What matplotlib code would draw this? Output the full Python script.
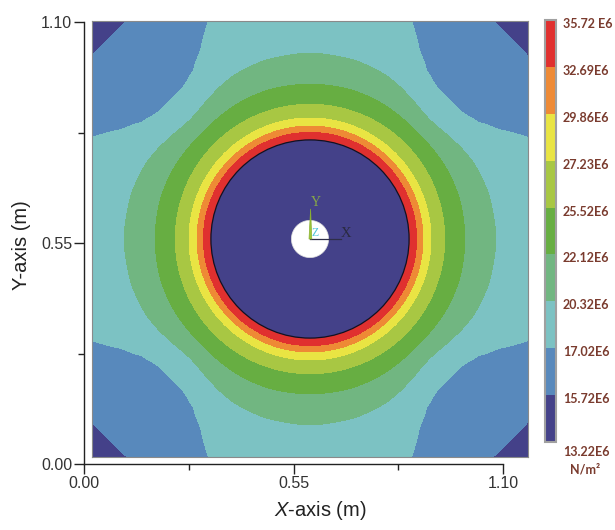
import numpy as np
import matplotlib
matplotlib.use("Agg")
import matplotlib.pyplot as plt
from matplotlib.colors import ListedColormap, BoundaryNorm
from matplotlib.patches import Circle, Polygon

# ---------------- data ----------------
levels = [13.22, 15.72, 17.02, 20.32, 22.12, 25.52, 27.23, 29.86, 32.69, 35.72]
level_labels = ["13.22E6", "15.72E6", "17.02E6", "20.32E6", "22.12E6",
                "25.52E6", "27.23E6", "29.86E6", "32.69E6", "35.72 E6"]
band_colors = ["#444189", "#5889bc", "#7cc2c3", "#71b681", "#67ae42",
               "#a8c743", "#e9e443", "#ee8a35", "#e0302f"]

plate_size = 1.1            # m
hole_radius = 0.047         # m
disc_radius = 0.250         # m  (inclusion, low stress)
disc_value = 14.3           # E6 N/m2 inside the inclusion

# contour radii (m), versus angle from nearest axis
profile_angles = [0, 15, 25, 30, 35, 40, 45]  # degrees
profile_values = [34.6, 32.69, 29.86, 27.23, 25.52, 22.12, 20.32, 17.02, 15.72, 13.5]
profile_radii = [
    [0.250] * 7,
    [0.269] * 7,
    [0.285] * 7,
    [0.305] * 7,
    [0.340] * 7,
    [0.390, 0.390, 0.388, 0.386, 0.384, 0.382, 0.381],
    [0.469, 0.464, 0.455, 0.447, 0.438, 0.430, 0.426],
    [0.673, 0.656, 0.606, 0.551, 0.515, 0.498, 0.496],
    [0.883, 0.841, 0.800, 0.775, 0.750, 0.718, 0.716],
    [1.093, 1.051, 1.009, 0.967, 0.925, 0.841, 0.799],
]

axis_ticks = [0.0, 0.55, 1.10]
axis_tick_labels = ["0.00", "0.55", "1.10"]
axis_minor_ticks = [0.275, 0.825]

# ---------------- field ----------------
n = 800
xs = np.linspace(0, plate_size, n)
X, Y = np.meshgrid(xs, xs)
c = plate_size / 2
R = np.hypot(X - c, Y - c)
th = np.degrees(np.arctan2(Y - c, X - c)) % 90.0
phi = np.minimum(th, 90.0 - th)

radii = np.stack([np.interp(phi, profile_angles, row) for row in profile_radii])
vals = np.array(profile_values)
F = np.full(R.shape, vals[-1])
F[R < radii[0]] = disc_value
for k in range(len(vals) - 1):
    m = (R >= radii[k]) & (R < radii[k + 1])
    t = (R[m] - radii[k][m]) / (radii[k + 1][m] - radii[k][m])
    F[m] = vals[k] + t * (vals[k + 1] - vals[k])

# ---------------- figure ----------------
plt.rcParams['font.family'] = ['Liberation Sans', 'DejaVu Sans']
plt.rcParams['mathtext.fontset'] = 'custom'
plt.rcParams['mathtext.rm'] = 'Liberation Sans'
plt.rcParams['mathtext.it'] = 'Liberation Sans:italic'

W, H = 615, 530
fig = plt.figure(figsize=(W / 100, H / 100), dpi=100)

def px_axes(x0, y0, x1, y1, **kw):
    return fig.add_axes([x0 / W, 1 - y1 / H, (x1 - x0) / W, (y1 - y0) / H], **kw)

# frame axes with ticks
ax = px_axes(84, 22, 503, 464)
ax.set_facecolor('none')
ax.set_xlim(0, plate_size)
ax.set_ylim(0, plate_size)
for s in ['top', 'right']:
    ax.spines[s].set_visible(False)
for s in ['left', 'bottom']:
    ax.spines[s].set_color('#222222')
    ax.spines[s].set_linewidth(1.0)
ax.set_xticks(axis_ticks, axis_tick_labels)
ax.set_yticks(axis_ticks, axis_tick_labels)
ax.set_xticks(axis_minor_ticks, minor=True)
ax.set_yticks(axis_minor_ticks, minor=True)
ax.tick_params(which='major', direction='out', length=7, width=1.0,
               color='#222222', labelsize=11.5, labelcolor='#333333', pad=1.5)
ax.tick_params(which='minor', direction='out', length=4, width=1.0, color='#222222')

fig.text(320 / W, 1 - 510 / H, r'$X$-axis (m)', ha='center', va='center',
         fontsize=14.5, color='#222222')
fig.text(22 / W, 1 - 245 / H, 'Y-axis (m)', ha='center', va='center',
         rotation=90, fontsize=14.5, color='#222222')

# contour image axes
axi = px_axes(92, 21, 528, 457)
cmap = ListedColormap(band_colors)
norm = BoundaryNorm(levels, cmap.N)
cs = axi.contourf(X, Y, F, levels=levels, cmap=cmap, norm=norm)
axi.add_patch(Circle((c, c), disc_radius, facecolor=band_colors[0],
                     edgecolor='#111122', lw=0.9, zorder=3))
axi.add_patch(Circle((c, c), hole_radius, facecolor='white',
                     edgecolor='#dddddd', lw=0.5, zorder=4))
axi.set_xlim(0, plate_size)
axi.set_ylim(0, plate_size)
axi.set_aspect('auto')
axi.set_xticks([])
axi.set_yticks([])
for s in axi.spines.values():
    s.set_color('#8a8a8a')
    s.set_linewidth(0.8)

# coordinate triad
axi.plot([c, c + 0.078], [c - 0.001, c - 0.001], color='#2e2e48', lw=0.9, zorder=5)
axi.add_patch(Polygon([(c - 0.0025, c), (c + 0.0045, c), (c + 0.0015, c + 0.076)],
                      closed=True, facecolor='#9cc63a', edgecolor='#8ab030',
                      lw=0.5, zorder=5))
axi.text(0.565, 0.641, 'Y', color='#86a848', fontsize=10, family='Liberation Serif',
         ha='center', va='center', zorder=6)
axi.text(0.641, 0.563, 'X', color='#2a2a40', fontsize=10.5, family='Liberation Serif',
         ha='center', va='center', zorder=6)
axi.text(0.562, 0.566, 'Z', color='#4fc3d9', fontsize=8.5, family='Liberation Serif',
         ha='center', va='center', zorder=6)

# colorbar
cax = px_axes(545, 20, 556, 442)
cb = fig.colorbar(cs, cax=cax, spacing='uniform')
cb.outline.set_edgecolor('#a0a0a0')
cb.outline.set_linewidth(1.5)
cax.tick_params(length=0, labelright=False, right=False)
lab_col = '#7a3b2e'
for i, (b, lab) in enumerate(zip(levels, level_labels)):
    dy = -10 if i == 0 else -4
    cax.annotate(lab, xy=(1, b), xycoords=cax.get_yaxis_transform(),
                 xytext=(7, dy), textcoords='offset pixels', ha='left', va='center',
                 fontsize=9, color=lab_col, family=['Lato', 'DejaVu Sans'],
                 fontweight='bold', annotation_clip=False)
cax.annotate('N/m²', xy=(1, levels[0]), xycoords=cax.get_yaxis_transform(),
             xytext=(14, -28), textcoords='offset pixels', ha='left', va='center',
             fontsize=9, color=lab_col, family=['Lato', 'DejaVu Sans'],
             fontweight='bold', annotation_clip=False)

fig.savefig('out.png', dpi=100)
